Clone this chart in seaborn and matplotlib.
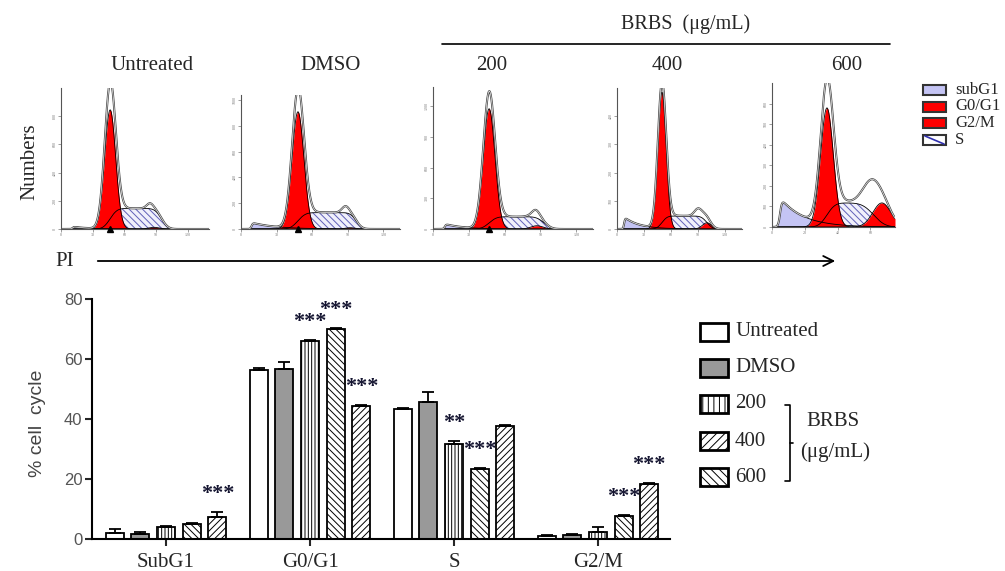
import math
import numpy as np
import pandas as pd
import matplotlib
matplotlib.use("Agg")
import matplotlib.pyplot as plt
import seaborn as sns
from matplotlib.patches import Rectangle

# ---------------- bar chart data ----------------
phases = ["SubG1", "G0/G1", "S", "G2/M"]
treatments = ["Untreated", "DMSO", "200", "400", "600"]
val_untreated = [2.0, 56.5, 43.3, 1.1]
val_dmso = [1.8, 56.8, 45.6, 1.3]
val_200 = [4.0, 66.0, 31.6, 2.2]
val_400 = [5.0, 70.0, 23.2, 7.6]
val_600 = [7.4, 44.4, 37.6, 18.3]
err_untreated = [1.2, 0.6, 0.3, 0.2]
err_dmso = [0.4, 2.2, 3.3, 0.3]
err_200 = [0.5, 0.3, 1.2, 1.8]
err_400 = [0.3, 0.4, 0.5, 0.4]
err_600 = [1.5, 0.4, 0.3, 0.4]
sig_untreated = ["", "", "", ""]
sig_dmso = ["", "", "", ""]
sig_200 = ["", "***", "**", ""]
sig_400 = ["", "***", "***", "***"]
sig_600 = ["***", "***", "", "***"]
y_ticks = [0, 20, 40, 60, 80]

# ---------------- histogram (ModFit components) data ----------------
hist_titles = ["Untreated", "DMSO", "200", "400", "600"]
hist_xmax = [140, 134, 134, 139, 75]
hist_ymax = [1000, 1040, 1390, 500, 700]
hist_xticks = [[0, 30, 60, 90, 120], [0, 30, 60, 90, 120], [0, 30, 60, 90, 120],
               [0, 30, 60, 90, 120], [0, 20, 40, 60]]
hist_yticks = [[0, 200, 400, 600, 800], [0, 200, 400, 600, 800, 1000],
               [0, 300, 600, 900, 1200], [0, 100, 200, 300, 400],
               [0, 100, 200, 300, 400, 500, 600]]
subg1_start = [11, 9, 10, 8, 5]
subg1_height = [15, 45, 45, 38, 128]
subg1_decay = [15, 20, 15, 17, 14]
g1_mean = [46.5, 48, 47, 50, 33.5]
g1_sd = [5.2, 5.0, 4.9, 4.6, 3.9]
g1_fit_height = [845, 910, 1177, 485, 579]
g1_data_height = [970, 1026, 1284, 495, 647]
s_level = [146, 127, 120, 46, 117]
s_end = [95, 97, 93, 100, 62]
g2_mean = [88, 92, 87, 100, 67]
g2_sd = [5, 4, 5, 5, 5.5]
g2_height = [12, 10, 32, 22, 117]
bump_mean = [84, 88, 86, 90, 60]
bump_sd = [3, 3, 3, 4, 5]
bump_height = [30, 45, 45, 25, 100]
g1_marker = [True, True, True, False, False]

# ---------------- style ----------------
sns.set_style("ticks")
plt.rcParams["font.family"] = ["Liberation Serif", "DejaVu Serif"]
plt.rcParams["hatch.linewidth"] = 0.7

W, H = 1005, 571
fig = plt.figure(figsize=(W / 100, H / 100), dpi=100)
fig.patch.set_facecolor("white")


def px_axes(l, r, t, b):
    return fig.add_axes([l / W, 1 - b / H, (r - l) / W, (b - t) / H])


verf = np.vectorize(math.erf)
RED = "#ff0000"
LAV = "#c4c4f4"

panel_px = [(61, 209, 88, 229), (241, 400, 95, 229), (433, 593, 87, 229),
            (617, 742, 88, 229), (772, 895, 83, 227)]

for i in range(5):
    hax = px_axes(*panel_px[i])
    x = np.linspace(0, hist_xmax[i], 700)
    d = np.clip(x - subg1_start[i], 0, None)
    sub = subg1_height[i] / 0.9 * (1 / (1 + np.exp(-(x - subg1_start[i]) / 0.6))) * np.exp(-d / subg1_decay[i])
    s = s_level[i] * 0.5 * (verf((x - g1_mean[i]) / (math.sqrt(2) * g1_sd[i]))
                            - verf((x - s_end[i]) / (math.sqrt(2) * g2_sd[i])))
    g1f = g1_fit_height[i] * np.exp(-0.5 * ((x - g1_mean[i]) / g1_sd[i]) ** 2)
    g1d = g1_data_height[i] * np.exp(-0.5 * ((x - g1_mean[i]) / g1_sd[i]) ** 2)
    g2 = g2_height[i] * np.exp(-0.5 * ((x - g2_mean[i]) / g2_sd[i]) ** 2)
    bump = bump_height[i] * np.exp(-0.5 * ((x - bump_mean[i]) / bump_sd[i]) ** 2)
    total = sub + s + g1d + g2 + bump

    hax.fill_between(x, 0, sub, facecolor=LAV, linewidth=0)
    hax.fill_between(x, 0, s, facecolor="#f0f0fb", edgecolor="#6060b8", hatch="\\\\\\\\\\", linewidth=0)
    hax.fill_between(x, 0, g1f, facecolor=RED, linewidth=0)
    hax.fill_between(x, 0, g2, facecolor=RED, linewidth=0)
    for comp in (sub, s, g1f, g2):
        hax.plot(x, comp, color="black", lw=0.6)
    hax.plot(x, total, color="#444444", lw=1.5)
    hax.plot(x, total, color="white", lw=0.45)
    if g1_marker[i]:
        hax.plot([g1_mean[i]], [0], marker="^", color="black", markersize=4, clip_on=False, zorder=5)
    hax.set_xlim(0, hist_xmax[i])
    hax.set_ylim(0, hist_ymax[i])
    hax.set_xticks(hist_xticks[i])
    hax.set_yticks(hist_yticks[i])
    hax.tick_params(length=2, width=0.5, labelsize=3, colors="#777777", pad=1)
    plt.setp(hax.get_yticklabels(), rotation=90, va="center")
    for sp in ("top", "right"):
        hax.spines[sp].set_visible(False)
    for sp in ("left", "bottom"):
        hax.spines[sp].set_color("#555555")
        hax.spines[sp].set_linewidth(0.8)
    hax.patch.set_alpha(0)

# ---------------- bar chart ----------------
values = [val_untreated, val_dmso, val_200, val_400, val_600]
errors = [err_untreated, err_dmso, err_200, err_400, err_600]
sigs = [sig_untreated, sig_dmso, sig_200, sig_400, sig_600]
rows = []
for t, vals in zip(treatments, values):
    for p, v in zip(phases, vals):
        rows.append({"phase": p, "treatment": t, "value": v})
df = pd.DataFrame(rows)

bax = px_axes(92, 670, 299, 539)
palette = {"Untreated": "white", "DMSO": "#999999", "200": "white", "400": "white", "600": "white"}
sns.barplot(data=df, x="phase", y="value", hue="treatment", order=phases, hue_order=treatments,
            palette=palette, width=0.89, gap=0.29, errorbar=None, edgecolor="black",
            linewidth=1.3, saturation=1, legend=False, ax=bax)
bar_hatches = [None, None, "|||||", "\\\\\\\\\\", "/////"]
bar_containers = list(bax.containers)
for k, cont in enumerate(bar_containers):
    for j, bar in enumerate(cont):
        if bar_hatches[k]:
            bar.set_hatch(bar_hatches[k])
        xc = bar.get_x() + bar.get_width() / 2
        h = bar.get_height()
        e = errors[k][j]
        bax.errorbar([xc], [h], yerr=[[0], [e]], fmt="none", ecolor="black",
                     elinewidth=1.3, capsize=4.5, capthick=1.3, zorder=1)
        if sigs[k][j]:
            bax.text(xc, h + e + 6.0, sigs[k][j], ha="center", va="center",
                     fontsize=16, fontweight="bold", color="#141430")

bax.set_xlim(-0.514, 3.5)
bax.set_ylim(0, 80)
bax.set_yticks(y_ticks)
bax.set_xlabel("")
bax.set_ylabel("% cell  cycle", fontsize=14, color="#444444", family="Liberation Sans")
bax.yaxis.set_label_coords(-0.08, 0.48)
bax.tick_params(axis="y", length=5, width=1.5, labelsize=12, labelcolor="#555555", pad=2)
bax.tick_params(axis="x", length=5, width=1.5, labelsize=15, pad=5)
for lab in bax.get_yticklabels():
    lab.set_family("Liberation Sans")
for sp in ("top", "right"):
    bax.spines[sp].set_visible(False)
for sp in ("left", "bottom"):
    bax.spines[sp].set_linewidth(1.5)
    bax.spines[sp].set_color("black")

# ---------------- overlay (titles, arrow, legends) ----------------
ov = fig.add_axes([0, 0, 1, 1])
ov.set_xlim(0, W)
ov.set_ylim(H, 0)
ov.axis("off")

title_x = [152, 331, 492, 667, 847]
for tx, tt in zip(title_x, hist_titles):
    ov.text(tx, 66, tt, ha="center", va="center", fontsize=15)
ov.text(686, 24, "BRBS  (\u03bcg/mL)", ha="center", va="center", fontsize=14.5)
ov.plot([442, 890], [44, 44], color="black", lw=1.2)
ov.text(30, 162, "Numbers", rotation=90, ha="center", va="center", fontsize=15)
ov.text(65, 262, "PI", ha="center", va="center", fontsize=15)
ov.annotate("", xy=(838, 261), xytext=(95, 261),
            arrowprops=dict(arrowstyle="->", lw=1.3, color="black", mutation_scale=18))

# histogram legend
hist_leg = [("subG1", LAV, None), ("G0/G1", RED, None), ("G2/M", RED, None), ("S", "white", "S")]
for (lab, col, kind), yc in zip(hist_leg, [90, 106.5, 123, 140]):
    ov.add_patch(Rectangle((923, yc - 5), 23, 10, facecolor=col, edgecolor="#333333", lw=1.5))
    if kind == "S":
        ov.plot([925, 944], [yc - 4, yc + 4], color="#3030b0", lw=1.2)
    ov.text(955, yc, lab, ha="left", va="center", fontsize=12)

# bar legend
leg_hatch = [None, None, "|||", "////", "\\\\\\\\"]
leg_face = ["white", "#999999", "white", "white", "white"]
for lab, hc, fc, yc in zip(treatments, leg_hatch, leg_face, [332, 368, 404, 441, 477]):
    ov.add_patch(Rectangle((700, yc - 9), 28, 18, facecolor=fc, edgecolor="black", lw=2, hatch=hc))
    ov.text(735, yc, lab, ha="left", va="center", fontsize=15)
ov.plot([785, 790, 790, 785], [405, 405, 481, 481], color="black", lw=1.2)
ov.plot([790, 793], [443, 443], color="black", lw=1.2)
ov.text(833, 422, "BRBS", ha="center", va="center", fontsize=15)
ov.text(835, 452, "(\u03bcg/mL)", ha="center", va="center", fontsize=15)

fig.savefig("out.png", dpi=100)
